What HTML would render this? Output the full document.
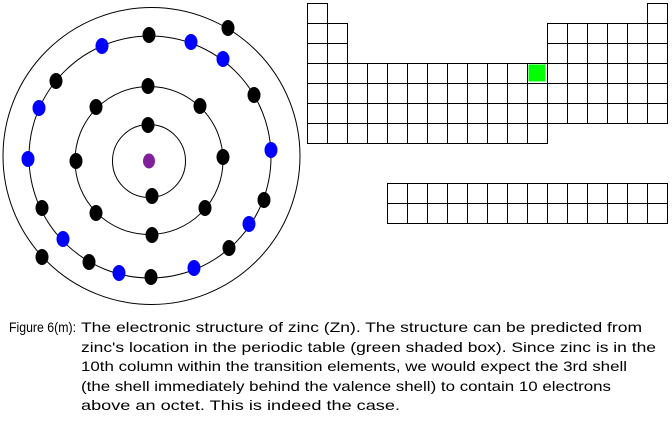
<!DOCTYPE html>
<html><head><meta charset="utf-8"><style>
html,body{margin:0;padding:0;background:#fff;}
svg{display:block;}
</style></head><body>
<svg width="672" height="432" viewBox="0 0 672 432" xmlns="http://www.w3.org/2000/svg">
<g fill="none" stroke="#000" stroke-width="1">
<circle cx="151.5" cy="156" r="148.5"/>
<circle cx="150" cy="157" r="121"/>
<circle cx="149" cy="160.5" r="74"/>
<circle cx="149" cy="161" r="36.5"/>
</g>
<ellipse cx="149" cy="161" rx="6" ry="7.5" fill="#80209a"/>
<g fill="#000">
<ellipse cx="148" cy="125" rx="6.5" ry="8"/>
<ellipse cx="152" cy="196" rx="6.5" ry="8"/>
<ellipse cx="148" cy="86" rx="6.5" ry="8"/>
<ellipse cx="96" cy="107" rx="6.5" ry="8"/>
<ellipse cx="200" cy="106" rx="6.5" ry="8"/>
<ellipse cx="76" cy="161" rx="6.5" ry="8"/>
<ellipse cx="223" cy="157" rx="6.5" ry="8"/>
<ellipse cx="96" cy="213" rx="6.5" ry="8"/>
<ellipse cx="205" cy="208" rx="6.5" ry="8"/>
<ellipse cx="152" cy="235" rx="6.5" ry="8"/>
<ellipse cx="149" cy="35" rx="6.5" ry="8"/>
<ellipse cx="56" cy="81" rx="6.5" ry="8"/>
<ellipse cx="254" cy="95" rx="6.5" ry="8"/>
<ellipse cx="42" cy="208" rx="6.5" ry="8"/>
<ellipse cx="264" cy="200" rx="6.5" ry="8"/>
<ellipse cx="89" cy="262" rx="6.5" ry="8"/>
<ellipse cx="229" cy="248" rx="6.5" ry="8"/>
<ellipse cx="151" cy="277" rx="6.5" ry="8"/>
<ellipse cx="228" cy="28" rx="6.5" ry="8"/>
<ellipse cx="42" cy="257" rx="6.5" ry="8"/>
</g>
<g fill="#0000ff">
<ellipse cx="102" cy="46" rx="6.5" ry="8"/>
<ellipse cx="191" cy="42" rx="6.5" ry="8"/>
<ellipse cx="223" cy="59" rx="6.5" ry="8"/>
<ellipse cx="39" cy="108" rx="6.5" ry="8"/>
<ellipse cx="28" cy="159" rx="6.5" ry="8"/>
<ellipse cx="271" cy="150" rx="6.5" ry="8"/>
<ellipse cx="63" cy="239" rx="6.5" ry="8"/>
<ellipse cx="249" cy="224" rx="6.5" ry="8"/>
<ellipse cx="119" cy="273" rx="6.5" ry="8"/>
<ellipse cx="194" cy="268" rx="6.5" ry="8"/>
</g>
<rect x="528.5" y="64.5" width="17" height="17" fill="#00ff00"/>
<g fill="none" stroke="#000" stroke-width="1" id="pt"></g>
<g font-family="Liberation Sans, Arial, sans-serif" font-size="14" fill="#000">
<text x="9" y="332" textLength="67" lengthAdjust="spacingAndGlyphs">Figure 6(m):</text>
<text x="81" y="332" textLength="561" lengthAdjust="spacingAndGlyphs">The electronic structure of zinc (Zn).  The structure can be predicted from</text>
<text x="81" y="352" textLength="575" lengthAdjust="spacingAndGlyphs">zinc's location in the periodic table (green shaded box).  Since zinc is in the</text>
<text x="81" y="371" textLength="546" lengthAdjust="spacingAndGlyphs">10th column within the transition elements, we would expect the 3rd shell</text>
<text x="81" y="391" textLength="530" lengthAdjust="spacingAndGlyphs">(the shell immediately behind the valence shell) to contain 10 electrons</text>
<text x="81" y="410" textLength="319" lengthAdjust="spacingAndGlyphs">above an octet.  This is indeed the case.</text>
</g>
<script>
(function(){
var g=document.getElementById('pt'),ns='http://www.w3.org/2000/svg';
function cell(c,r){var e=document.createElementNS(ns,'rect');e.setAttribute('x',307.5+c*20);e.setAttribute('y',3.5+r*20);e.setAttribute('width',20);e.setAttribute('height',20);g.appendChild(e);}
cell(0,0);cell(17,0);
for(var r=1;r<3;r++){cell(0,r);cell(1,r);for(var c=12;c<18;c++)cell(c,r);}
for(var r=3;r<6;r++)for(var c=0;c<18;c++)cell(c,r);
for(var c=0;c<12;c++)cell(c,6);
for(var r=9;r<11;r++)for(var c=4;c<18;c++)cell(c,r);
})();
</script>
</svg>
</body></html>
